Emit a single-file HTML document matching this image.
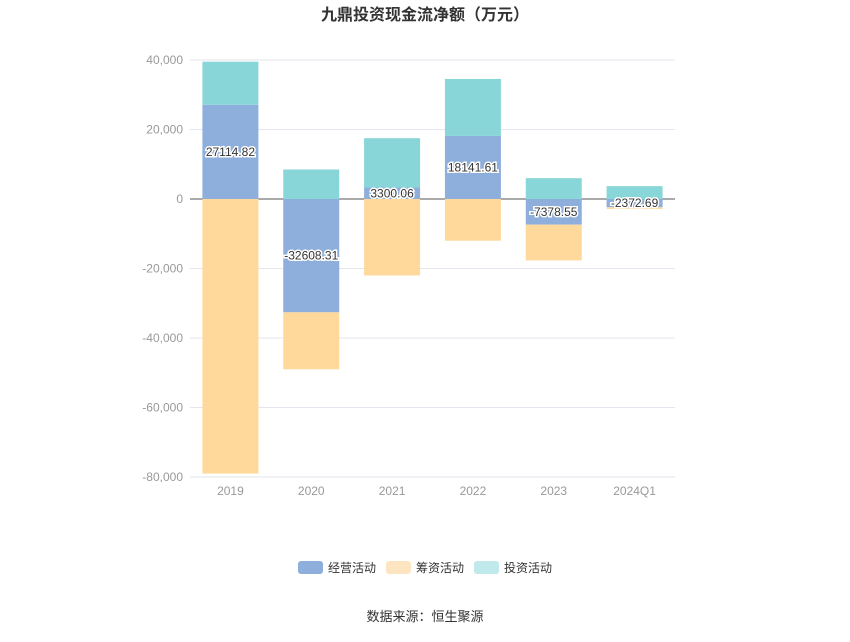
<!DOCTYPE html>
<html><head><meta charset="utf-8"><style>
body{margin:0;background:#fff;font-family:"Liberation Sans","Noto Sans CJK SC",sans-serif}
</style></head><body>
<svg id="c" width="850" height="637" xmlns="http://www.w3.org/2000/svg" font-family="Liberation Sans, Noto Sans CJK SC, sans-serif">
<text x="425" y="20" text-anchor="middle" font-size="16" font-weight="bold" fill="#333">九鼎投资现金流净额（万元）</text>
<g id="grid"></g><g id="bars"></g><g id="labels"></g>
<g>
<rect x="298" y="561" width="25" height="13" rx="3" fill="#8eaedb"/>
<text x="328" y="572" font-size="12" fill="#333">经营活动</text>
<rect x="386" y="561" width="25" height="13" rx="3" fill="#fee5c2"/>
<text x="416" y="572" font-size="12" fill="#333">筹资活动</text>
<rect x="474" y="561" width="25" height="13" rx="3" fill="#bfe9ea"/>
<text x="504" y="572" font-size="12" fill="#333">投资活动</text>
</g>
<text x="425" y="621" text-anchor="middle" font-size="13" fill="#333">数据来源：恒生聚源</text>
</svg>
<script>
const categories=["2019","2020","2021","2022","2023","2024Q1"];
const operating=[27114.82,-32608.31,3300.06,18141.61,-7378.55,-2372.69];
const financing=[-79000,-16400,-22000,-12000,-10300,-500];
const investing=[12400,8500,14200,16400,6000,3700];
const opLabels=["27114.82","-32608.31","3300.06","18141.61","-7378.55","-2372.69"];
const yTicks=[40000,20000,0,-20000,-40000,-60000,-80000];
const tickLabels=["40,000","20,000","0","-20,000","-40,000","-60,000","-80,000"];
const NS="http://www.w3.org/2000/svg";
const x0=190,x1=675,yTop=60,yBot=477,vMax=40000,vMin=-80000;
const y=v=>yTop+(vMax-v)/(vMax-vMin)*(yBot-yTop);
const band=(x1-x0)/categories.length;
const xc=i=>x0+band*(i+0.5);
function mk(tag,attrs,parent){const e=document.createElementNS(NS,tag);for(const k in attrs)e.setAttribute(k,attrs[k]);parent.appendChild(e);return e;}
const grid=document.getElementById('grid'),bars=document.getElementById('bars'),labels=document.getElementById('labels');
yTicks.forEach((t,i)=>{
 const l=mk('line',{x1:x0,x2:x1,y1:y(t),y2:y(t),stroke:t===0?'#555':'#e3e6ee','stroke-width':1},grid);
 
 
 const tx=mk('text',{x:x0-7,y:y(t)+4,'text-anchor':'end','font-size':12,fill:'#999'},grid);
 tx.textContent=tickLabels[i];
 
 
});
const bw=56;
categories.forEach((c,i)=>{
 let pos=0,neg=0;
 const segs=[[operating[i],'#8eaedb','operating'],[financing[i],'#ffd99b','financing'],[investing[i],'#89d6d8','investing']];
 segs.forEach(([v,col,nm])=>{
  let a,b;
  if(v>=0){a=pos;b=pos+v;pos=b;}else{a=neg;b=neg+v;neg=b;}
  const top=Math.min(y(a),y(b)),h=Math.abs(y(a)-y(b));
  const r=mk('rect',{x:xc(i)-bw/2,y:top,width:bw,height:h,fill:col},bars);
  
  
 });
 const ly=y(operating[i]/2)+4;
 const t=mk('text',{x:xc(i),y:ly,'text-anchor':'middle','font-size':12,fill:'#333',stroke:'#fff','stroke-width':3,'paint-order':'stroke'},labels);
 t.textContent=opLabels[i];
 
 
 const xl=mk('text',{x:xc(i),y:yBot+18,'text-anchor':'middle','font-size':12,fill:'#999'},grid);
 xl.textContent=c;
 
 
});
</script>
</body></html>
